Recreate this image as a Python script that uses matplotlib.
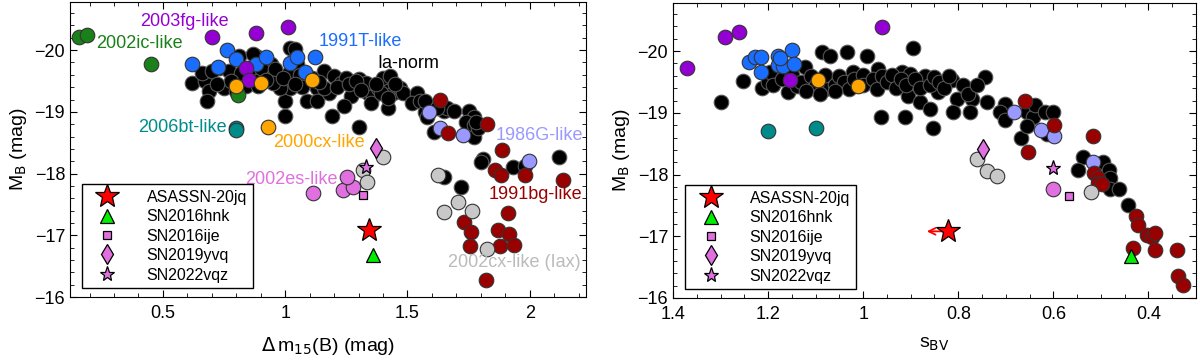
import numpy as np
import matplotlib.pyplot as plt
from matplotlib.ticker import MultipleLocator

plt.rcParams['font.family'] = ['Liberation Sans', 'DejaVu Sans']
plt.rcParams['font.size'] = 12

# ---- left panel: (dm15(B), M_B) ----
norm_L = [(0.62, -19.47), (0.67, -19.50), (0.69, -19.33), (0.68, -19.18), (0.75, -19.39), (0.73, -19.71),
          (0.88, -19.90), (0.81, -19.90), (0.77, -19.66), (0.82, -19.63), (0.87, -19.62), (0.94, -19.78),
          (0.93, -19.62), (0.97, -19.50), (1.01, -19.62), (1.00, -19.18), (1.00, -18.94), (1.02, -20.03),
          (1.04, -20.02), (1.05, -19.78), (1.02, -19.39), (1.09, -19.50), (1.09, -19.18), (1.13, -19.39),
          (1.13, -19.18), (1.16, -19.66), (0.98, -19.39), (0.84, -19.42), (0.80, -19.34), (0.86, -19.71),
          (0.90, -19.71), (0.96, -19.70), (0.66, -19.63), (0.70, -19.66), (0.89, -19.42), (0.95, -19.46),
          (0.87, -19.94), (1.20, -19.58), (1.23, -19.46), (1.25, -19.55), (1.28, -19.39), (1.32, -19.47),
          (1.34, -19.31), (1.36, -19.26), (1.38, -19.39), (1.40, -19.55), (1.43, -19.58), (1.42, -19.34),
          (1.44, -19.30), (1.47, -19.38), (1.48, -19.31), (1.42, -19.07), (1.35, -19.14), (1.27, -19.26),
          (1.24, -19.10), (1.18, -19.30), (1.16, -19.39), (1.19, -18.94), (1.30, -18.75), (1.54, -19.30),
          (1.52, -19.14), (1.55, -19.18), (1.57, -18.99), (1.58, -18.91), (1.61, -19.10), (1.65, -19.02),
          (1.66, -19.07), (1.69, -19.02), (1.75, -19.02), (1.77, -18.91), (1.74, -18.83), (1.77, -18.78),
          (1.77, -18.59), (1.79, -18.74), (1.81, -18.24), (1.30, -19.54), (1.33, -19.46), (1.39, -19.30),
          (1.42, -19.22), (1.57, -19.18), (1.62, -19.07), (1.78, -18.83), (1.61, -18.67), (1.80, -18.19),
          (1.93, -18.10), (1.98, -18.12), (2.12, -18.27), (1.65, -17.95), (1.72, -17.79), (1.06, -19.60),
          (1.11, -19.55), (1.07, -19.40), (1.14, -19.48), (1.21, -19.40), (1.26, -19.45), (1.29, -19.50),
          (1.31, -19.35), (1.37, -19.45), (1.45, -19.45), (0.92, -19.52), (0.99, -19.55), (1.04, -19.45),
          (0.78, -19.50), (0.72, -19.45)]
t91_L = [(0.62, -19.78), (0.725, -19.73), (0.76, -20.00), (0.80, -19.86), (0.88, -19.78), (0.92, -19.89),
         (1.02, -19.79), (1.05, -19.89), (1.08, -19.65), (1.12, -19.89)]
fg03_L = [(0.70, -20.21), (0.88, -20.27), (1.01, -20.37), (0.84, -19.71), (0.85, -19.52)]
ic02_L = [(0.156, -20.22), (0.189, -20.24), (0.45, -19.78), (0.807, -19.28)]
cx00_L = [(0.80, -19.42), (0.90, -19.46), (1.11, -19.52), (0.93, -18.75)]
bt06_L = [(0.80, -18.74), (0.80, -18.71)]
g86_L = [(1.586, -18.99), (1.635, -18.74), (1.725, -18.62), (1.996, -18.21)]
bg91_L = [(1.631, -19.20), (1.664, -18.66), (1.824, -18.80), (1.885, -18.38), (1.857, -18.06),
          (1.881, -17.97), (1.980, -17.98), (2.135, -17.90), (1.910, -17.36), (1.730, -17.22),
          (1.758, -17.06), (1.869, -17.09), (1.914, -17.02), (1.934, -16.85), (1.754, -16.82),
          (1.877, -16.82), (1.820, -16.27)]
es02_L = [(1.115, -17.68), (1.238, -17.73), (1.279, -17.79), (1.254, -17.94)]
cx02_L = [(1.398, -18.27), (1.32, -18.06), (1.336, -17.87), (1.623, -17.97), (1.705, -17.54),
          (1.648, -17.38), (1.762, -17.39), (1.824, -16.78)]

# ---- right panel: (s_BV, M_B) ----
norm_R = [(1.253, -19.51), (1.299, -19.17), (1.213, -19.41), (1.20, -19.50), (1.196, -19.67), (1.158, -19.33),
          (1.139, -19.43), (1.122, -19.74), (1.086, -19.98), (1.069, -19.92), (1.034, -19.98), (1.08, -19.38),
          (1.055, -19.54), (1.021, -19.67), (0.992, -19.92), (0.985, -19.50), (0.968, -19.71), (0.962, -18.94),
          (0.895, -20.05), (0.918, -19.67), (0.937, -19.50), (0.901, -19.63), (0.869, -19.59), (0.905, -19.27),
          (0.88, -19.17), (0.859, -19.06), (0.842, -19.33), (0.813, -19.54), (0.802, -19.22), (0.811, -19.02),
          (0.912, -18.93), (0.853, -18.75), (0.775, -19.38), (0.771, -19.22), (0.743, -19.58), (0.775, -19.02),
          (0.739, -19.17), (0.701, -19.14), (0.712, -19.01), (0.701, -18.89), (0.669, -18.60), (0.655, -19.02),
          (0.642, -18.93), (0.638, -19.12), (0.655, -18.78), (0.617, -19.01), (0.60, -19.02), (0.613, -18.65),
          (0.537, -18.28), (0.549, -18.08), (0.495, -18.20), (0.482, -18.08), (0.48, -17.95), (0.48, -17.77),
          (0.463, -17.77), (0.442, -17.50), (1.19, -19.45), (1.17, -19.55), (1.15, -19.62), (1.13, -19.50),
          (1.11, -19.60), (1.10, -19.45), (1.08, -19.62), (1.06, -19.45), (1.05, -19.60), (1.04, -19.50),
          (1.03, -19.38), (1.02, -19.55), (1.00, -19.62), (1.00, -19.45), (0.98, -19.55), (0.97, -19.38),
          (0.96, -19.60), (0.95, -19.50), (0.94, -19.62), (0.93, -19.40), (0.92, -19.55), (0.91, -19.45),
          (0.89, -19.55), (0.88, -19.40), (0.86, -19.45), (0.85, -19.58), (0.84, -19.50), (0.83, -19.40),
          (0.82, -19.60), (0.79, -19.45), (0.78, -19.30), (0.76, -19.45), (1.12, -19.35), (1.09, -19.30),
          (1.06, -19.35)]
t91_R = [(1.24, -19.82), (1.227, -19.90), (1.215, -19.90), (1.215, -19.66), (1.18, -19.92), (1.18, -19.77),
         (1.168, -19.76), (1.15, -20.02), (1.145, -19.79), (1.175, -19.89)]
fg03_R = [(1.371, -19.72), (1.291, -20.23), (1.261, -20.31), (0.96, -20.39), (1.154, -19.53)]
cx00_R = [(1.095, -19.53), (1.011, -19.43)]
bt06_R = [(1.20, -18.70), (1.099, -18.75)]
g86_R = [(0.682, -19.01), (0.625, -18.73), (0.598, -18.63), (0.516, -18.20)]
bg91_R = [(0.659, -19.20), (0.598, -18.80), (0.653, -18.37), (0.516, -18.63), (0.514, -18.03),
          (0.507, -17.95), (0.507, -17.87), (0.497, -17.84), (0.427, -17.33), (0.421, -17.19),
          (0.404, -17.02), (0.392, -16.99), (0.387, -17.06), (0.432, -16.81), (0.387, -16.78),
          (0.339, -16.78), (0.337, -16.36), (0.328, -16.21)]
es02_R = [(0.60, -17.77)]
cx02_R = [(0.76, -18.26), (0.739, -18.05), (0.718, -17.97), (0.52, -17.71)]

# individual objects: (left x, right x, M_B)
asassn = (1.344, 0.821, -17.08)
sn16hnk = (1.357, 0.436, -16.68)
sn16ije = (1.320, 0.568, -17.65)
sn19yvq = (1.373, 0.749, -18.41)
sn22vqz = (1.332, 0.600, -18.11)

classes = [("norm", 'black'), ("t91", '#1a6eff'), ("fg03", '#9400d3'), ("ic02", '#1a801a'),
           ("cx00", '#ffa500'), ("bt06", '#008b8b'), ("g86", '#9999ff'), ("bg91", '#990000'),
           ("es02", '#e070e0'), ("cx02", '#c8c8c8')]
left_data = dict(norm=norm_L, t91=t91_L, fg03=fg03_L, ic02=ic02_L, cx00=cx00_L, bt06=bt06_L,
                 g86=g86_L, bg91=bg91_L, es02=es02_L, cx02=cx02_L)
right_data = dict(norm=norm_R, t91=t91_R, fg03=fg03_R, cx00=cx00_R, bt06=bt06_R,
                  g86=g86_R, bg91=bg91_R, es02=es02_R, cx02=cx02_R)

# labels on left panel: text, x, y, colour
labels_L = [("2003fg-like", 0.405, -20.46, '#9400d3'), ("2002ic-like", 0.225, -20.11, '#1a801a'),
            ("1991T-like", 1.135, -20.14, '#1a6eff'), ("Ia-norm", 1.377, -19.79, 'black'),
            ("2006bt-like", 0.40, -18.74, '#008b8b'), ("2000cx-like", 0.95, -18.50, '#ffa500'),
            ("1986G-like", 1.86, -18.62, '#9999ff'), ("2002es-like", 0.836, -17.90, '#e070e0'),
            ("1991bg-like", 1.83, -17.66, '#990000'), ("2002cx-like (Iax)", 1.665, -16.56, '#bbbbbb')]


def draw_panel(ax, data, idx):
    for key, col in classes:
        if key not in data:
            continue
        pts = np.array(data[key])
        ec = '#555555' if key == 'norm' else '#333333'
        ax.plot(pts[:, 0], pts[:, 1], 'o', ms=10.5, mfc=col, mec=ec, mew=0.8, zorder=2)

    # special objects
    kw = dict(ls='none', mec='black', mew=0.9, zorder=4)
    ax.plot(asassn[idx], asassn[2], '*', ms=18, mfc='red', label='ASASSN-20jq', **kw)
    ax.plot(sn16hnk[idx], sn16hnk[2], '^', ms=9.5, mfc='#00ee00', label='SN2016hnk', **kw)
    ax.plot(sn16ije[idx], sn16ije[2], 's', ms=6, mfc='#e070e0', label='SN2016ije', **kw)
    ax.plot(sn19yvq[idx], sn19yvq[2], 'd', ms=10.5, mfc='#e070e0', label='SN2019yvq', **kw)
    ax.plot(sn22vqz[idx], sn22vqz[2], '*', ms=11, mfc='#e070e0', label='SN2022vqz', **kw)

    ax.set_ylim(-16, -20.78)
    ax.yaxis.set_major_locator(MultipleLocator(1))
    ax.yaxis.set_minor_locator(MultipleLocator(0.2))
    ax.tick_params(which='both', direction='in', top=True, right=True, labelsize=13)
    ax.tick_params(which='major', length=5)
    ax.tick_params(which='minor', length=3)
    ax.tick_params(axis='x', pad=6)
    ax.set_ylabel(r'M$_\mathrm{B}$ (mag)', fontsize=14)

    leg = ax.legend(loc='lower left', bbox_to_anchor=(0.023, 0.03), borderaxespad=0,
                    fancybox=False, edgecolor='black', fontsize=11.5, handletextpad=1.2,
                    labelspacing=0.28, borderpad=0.35, handlelength=2.5, framealpha=1)
    leg.get_frame().set_linewidth(1.0)


fig = plt.figure(figsize=(12, 3.63), dpi=100)
axL = fig.add_axes([70 / 1200, 66 / 363, 516 / 1200, 295 / 363])
axR = fig.add_axes([673 / 1200, 65 / 363, 523 / 1200, 295 / 363])

draw_panel(axL, left_data, 0)
axL.set_xlim(0.12, 2.23)
axL.xaxis.set_major_locator(MultipleLocator(0.5))
axL.xaxis.set_minor_locator(MultipleLocator(0.1))
axL.set_xticks([0.5, 1, 1.5, 2])
axL.set_xticklabels(['0.5', '1', '1.5', '2'])
axL.set_xlabel(r'$\Delta\,$m$_{15}$(B) (mag)', fontsize=14, labelpad=9)
for txt, x, y, c in labels_L:
    axL.text(x, y, txt, color=c, fontsize=13, va='center', ha='left', zorder=5)

draw_panel(axR, right_data, 1)
axR.annotate('', xy=(0.872, asassn[2]), xytext=(0.823, asassn[2]),
             arrowprops=dict(arrowstyle='->', color='red', lw=1.3), zorder=3)
axR.set_xlim(1.4, 0.3)
axR.xaxis.set_major_locator(MultipleLocator(0.2))
axR.xaxis.set_minor_locator(MultipleLocator(0.05))
axR.set_xticks([1.4, 1.2, 1.0, 0.8, 0.6, 0.4])
axR.set_xticklabels(['1.4', '1.2', '1', '0.8', '0.6', '0.4'])
axR.set_xlabel(r's$_\mathrm{BV}$', fontsize=14, labelpad=9)

fig.savefig('out.png', dpi=100)
